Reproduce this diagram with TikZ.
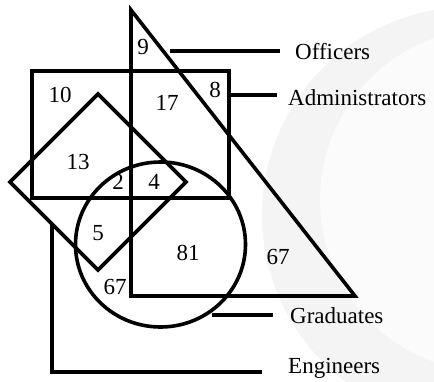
\documentclass[tikz,border=0pt]{standalone}
\usepackage{fontspec}
\setmainfont{Liberation Serif}
\usetikzlibrary{positioning}

\tikzset{setline/.style={line width=3.6pt,line join=miter}}

\begin{document}
\begin{tikzpicture}[x=1pt,y=-1pt,
	num/.style={font=\fontsize{23}{23}\selectfont,inner sep=0pt},
	lab/.style={font=\fontsize{23}{23}\selectfont,inner sep=0pt,anchor=base west}]
			\useasboundingbox (0,0) rectangle (434,381);
			% faint watermark
			\fill[gray!9] (470,215) circle (208);
			\fill[gray!3] (492,200) circle (172);
			% sets
			\draw[setline] (131,10) -- (355,296) -- (131,296) -- cycle;
			\draw[setline] (32,71) rectangle (229,198);
			\draw[setline] (10,182) -- (98,94) -- (186,182) -- (98,270) -- cycle;
			\draw[setline] (160.5,244.5) ellipse [x radius=85, y radius=82.5];
			\coordinate (engtop) at (52,225);
			\coordinate (engcorner) at (52,372);
			% labels
			\node[lab] (officers) at (295,59) {Officers};
			\node[lab] (admins) at (288,105) {Administrators};
			\node[lab] (grads) at (290,323) {Graduates};
			\node[lab] (engineers) at (288,373) {Engineers};
			\coordinate (offend) at (170,51);
			\coordinate (admend) at (229,95);
			\coordinate (gradend) at (212,315);
			\draw[setline] (offend) -- ([xshift=-15pt]officers.west |- offend);
			\draw[setline] (admend) -- ([xshift=-11pt]admins.west |- admend);
			\draw[setline] (gradend) -- ([xshift=-17pt]grads.west |- gradend);
			\draw[setline] (engtop) -- (engcorner) -- ([xshift=-26pt]engineers.west |- engcorner);
			% numbers
			\node[num] (n9) at (143,47) {9};
			\node[num] (n10) at (60,95) {10};
			\node[num] (n17) at (167,103) {17};
			\node[num] (n8) at (215,90) {8};
			\node[num] (n13) at (78,162) {13};
			\node[num] (n2) at (118,182) {2};
			\node[num] (n4) at (154,182) {4};
			\node[num] (n5) at (98,233) {5};
			\node[num] (n81) at (188,253) {81};
			\node[num] (n67a) at (278,257) {67};
			\node[num] (n67b) at (115,287) {67};
			\end{tikzpicture}
\end{document}
